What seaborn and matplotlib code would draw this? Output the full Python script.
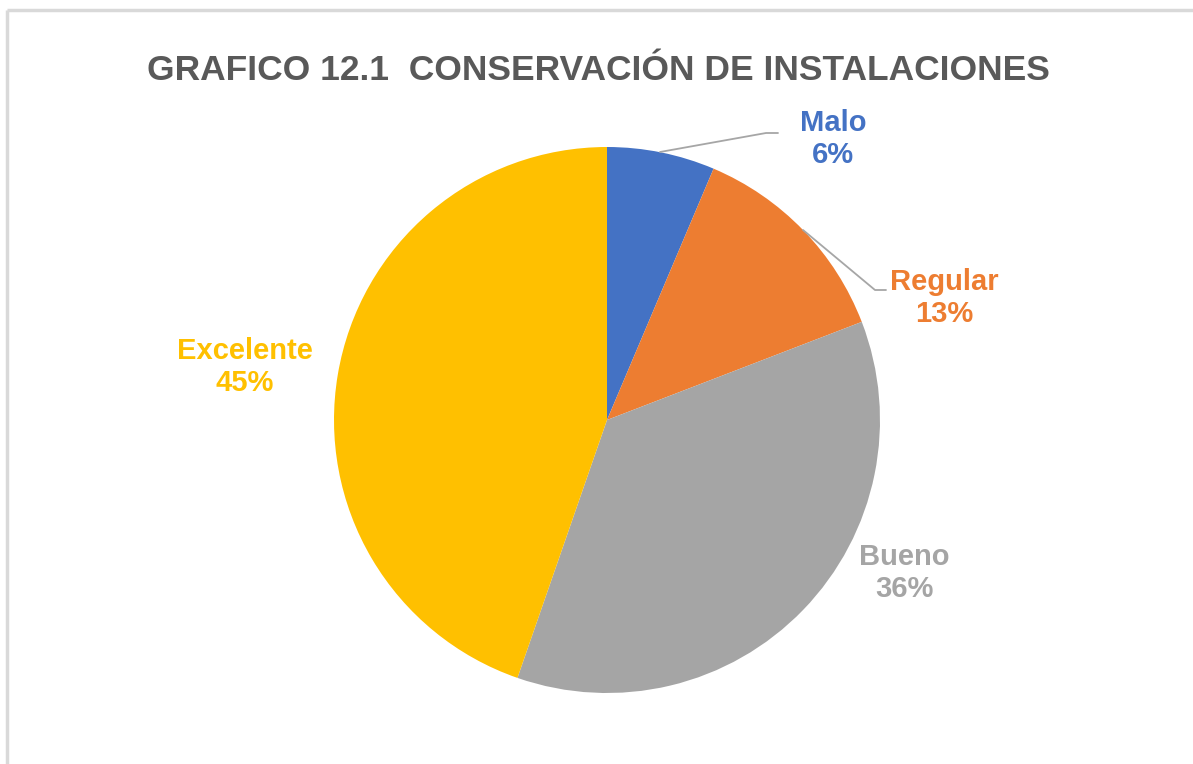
import matplotlib.pyplot as plt
import seaborn as sns

categorias = ["Malo", "Regular", "Bueno", "Excelente"]
frecuencias = [3, 6, 17, 21]
colores = ["#4472C4", "#ED7D31", "#A5A5A5", "#FFC000"]

sns.set_theme(style="white")
plt.rcParams['font.family'] = ['Liberation Sans', 'DejaVu Sans']

W, H = 1193, 764
fig = plt.figure(figsize=(W / 100, H / 100), dpi=100)
ax = fig.add_axes([0, 0, 1, 1])

# marco del gráfico (solo arriba e izquierda visibles)
ax.plot([7, W], [H - 10, H - 10], color="#D9D9D9", lw=2.5, solid_capstyle="butt")
ax.plot([7, 7], [H - 10, 0], color="#D9D9D9", lw=2.5, solid_capstyle="butt")

cx, cy, r = 607, H - 420, 273
ax.pie(frecuencias, colors=colores, startangle=90, counterclock=False,
       center=(cx, cy), radius=r, wedgeprops={"linewidth": 0},
       frame=True)
ax.set_xlim(0, W)
ax.set_ylim(0, H)
ax.set_aspect("equal")
ax.axis("off")

fig.text(598 / W, 1 - 70 / H, "GRAFICO 12.1  CONSERVACIÓN DE INSTALACIONES",
         ha="center", va="center", fontsize=25.5, fontweight="bold", color="#595959")

# etiquetas
total = sum(frecuencias)
pos_etiquetas = [(833, 139), (944, 298), (904, 573), (245, 367)]
for cat, f, col, (x, y) in zip(categorias, frecuencias, colores, pos_etiquetas):
    ax.text(x, H - y, f"{cat}\n{round(100 * f / total)}%", ha="center", va="center",
            fontsize=21, fontweight="bold", color=col, linespacing=1.15)

# líneas guía
ax.plot([660, 766, 778], [H - 152, H - 133, H - 133], color="#A6A6A6", lw=1.3)
ax.plot([803, 875, 886], [H - 230, H - 290, H - 290], color="#A6A6A6", lw=1.3)

plt.savefig("out.png", dpi=100)
